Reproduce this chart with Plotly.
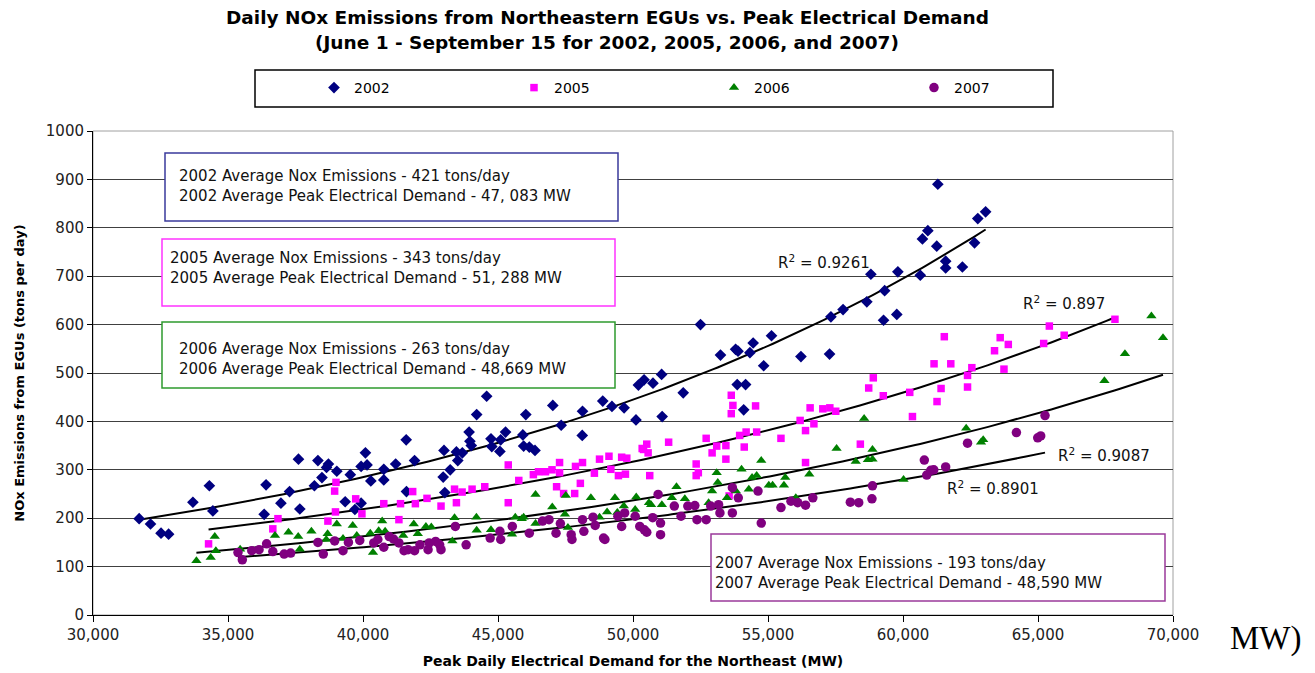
import numpy as np
import plotly.graph_objects as go

# ---------------- data ----------------
years = ["2002", "2005", "2006", "2007"]

demand_2002 = [31710,32130,32520,32800,33700,34310,34440,36340,36410,36960,37280,37610,37660,38200,38330,38480,38650,38720,39030,39340,39530,39700,39930,39930,40090,40150,40290,40770,40770,41210,41600,41610,41910,42970,43000,43030,43230,43460,43510,43680,43930,43960,44010,44210,44580,44740,44770,45070,45100,45280,45920,45950,46030,46160,46370,47030,47340,48120,48130,48880,49220,49670,50110,50200,50410,50740,51060,51080,51860,52500,53240,53800,53890,53860,54170,54100,54330,54450,54840,55130,56220,57280,57330,57780,58660,58810,59280,59320,59770,59810,60640,60720,60920,61250,61290,61580,61580,62200,62650,62770,63060]
nox_2002 = [199,188,169,167,233,267,215,208,269,231,255,322,219,267,319,284,305,312,297,234,290,218,231,307,335,310,277,279,301,312,362,255,319,285,340,253,300,337,319,335,378,359,350,414,452,364,348,338,362,378,372,349,414,347,340,433,392,371,421,442,431,428,403,475,486,479,497,410,459,600,537,549,545,476,476,424,542,562,515,577,534,539,616,631,647,704,609,670,621,709,702,777,794,762,890,731,717,719,769,819,833]

demand_2005 = [34280,36660,36850,38700,38950,39000,38980,39730,39960,40770,41330,41390,41840,41940,42370,42890,43390,43460,43670,44040,44510,45380,45380,45770,46310,46500,46760,47000,47170,47280,47280,47430,47840,47870,48050,48130,48570,48760,49110,49180,49460,49580,49720,49770,50340,50510,50390,50560,50620,51320,52340,52340,52420,52710,52930,53100,53440,53440,53560,53640,53700,53640,53950,54120,54190,54540,54580,55480,56190,56390,56390,56560,56700,57030,57290,57510,58420,58730,58900,59270,60250,60350,61260,61150,61410,61530,61770,62390,62390,62550,63390,63600,63740,63900,65210,65420,65970,67850]
nox_2005 = [147,178,199,194,256,274,213,240,209,230,197,230,255,230,241,225,260,232,254,260,265,310,232,278,290,296,296,300,265,315,294,251,251,307,272,315,293,322,328,301,288,326,291,324,344,353,342,335,288,357,312,288,294,365,335,349,350,322,246,416,433,454,371,347,378,432,378,365,402,381,315,428,395,426,428,421,353,469,490,453,460,410,441,519,468,575,519,471,495,511,546,573,508,559,561,597,578,611]

demand_2006 = [33830,34360,34510,34550,35450,36740,37240,37280,37600,37660,38090,38640,38690,39030,39260,39620,39770,40270,40370,40580,40710,40820,41490,41880,42030,42330,42530,43310,43390,44200,44210,44740,45520,45640,45880,45950,46390,46390,47010,47480,47510,47590,48440,48760,49040,49330,49420,49660,50080,50120,50590,50670,51070,51440,51610,51920,52800,52930,53100,53140,53480,53810,54020,54290,54410,54580,54750,55030,55170,55590,55640,56030,56530,57540,58250,58560,58700,58870,58870,60020,62340,62890,62970,67460,68220,69200,69630]
nox_2006 = [112,119,162,133,136,164,171,126,162,136,173,156,168,188,158,185,164,169,129,174,194,173,164,188,168,183,182,153,201,202,175,176,167,202,199,202,249,189,223,208,247,181,242,202,213,242,212,225,218,244,232,228,228,242,265,240,232,256,294,274,242,256,301,260,284,288,319,268,268,268,284,242,291,344,317,406,321,342,322,280,386,357,362,484,540,618,573]

demand_2007 = [35370,35530,35880,36150,36430,36660,37080,37320,38330,38530,38950,39260,39460,39880,40400,40550,40770,40970,41130,41330,41520,41670,41910,42110,42410,42450,42690,42840,42890,43420,43820,44710,45070,45100,45530,46160,46650,46890,47150,47310,47710,47740,48130,48180,48520,48600,48910,48960,49440,49580,49690,50080,50250,50420,50510,50730,50930,51020,51020,51530,51780,52030,52290,52370,52710,52880,53170,53220,53680,53680,53900,54630,54750,55480,55850,56100,56390,56660,58050,58360,58850,58870,60790,60880,61030,61140,61580,62390,64200,64990,65100,65260]
nox_2007 = [129,114,133,135,147,131,126,128,150,126,153,133,150,154,149,156,140,162,157,149,133,135,133,145,135,149,152,145,135,183,145,159,173,156,183,169,194,197,169,189,166,156,197,173,202,185,159,156,204,183,211,204,183,176,171,201,249,190,166,225,204,225,226,197,197,225,228,211,263,211,242,256,190,222,235,232,227,242,233,232,240,267,320,289,299,300,306,355,377,366,370,412]

r_squared = ["0.9261", "0.897", "0.9087", "0.8901"]
avg_nox = ["421", "343", "263", "193"]
avg_demand = ["47, 083", "51, 288", "48,669", "48,590"]

x_ticks = [30000, 35000, 40000, 45000, 50000, 55000, 60000, 65000, 70000]
y_ticks = [0, 100, 200, 300, 400, 500, 600, 700, 800, 900, 1000]

# ---------------- layout helpers (pixel -> paper) ----------------
W, H = 1315, 673
L, R, T, B = 93, 1173, 131, 615


def px(p):
    return (p - L) / (R - L)


def py(p):
    return (B - p) / (B - T)


series = [
    (demand_2002, nox_2002, "#000080", "diamond", 9),
    (demand_2005, nox_2005, "#FF00FF", "square", 7.5),
    (demand_2006, nox_2006, "#008000", "triangle-up", 9),
    (demand_2007, nox_2007, "#800080", "circle", 9.5),
]

fig = go.Figure()

# trend lines (Excel-style exponential fit on the points)
for (xs, ys, col, sym, sz) in series:
    xa = np.array(xs, dtype=float)
    ya = np.array(ys, dtype=float)
    k, c = np.polyfit(xa, np.log(ya), 1)
    xx = np.linspace(xa.min(), xa.max(), 200)
    fig.add_trace(go.Scatter(x=xx, y=np.exp(c + k * xx), mode="lines",
                             line=dict(color="black", width=2),
                             showlegend=False, hoverinfo="skip"))

for name, (xs, ys, col, sym, sz) in zip(years, series):
    fig.add_trace(go.Scatter(x=xs, y=ys, mode="markers", name=name,
                             marker=dict(color=col, symbol=sym, size=sz,
                                         line=dict(width=0))))

shapes = []
annotations = []

# plot border (grey top/right)
shapes.append(dict(type="rect", xref="paper", yref="paper", x0=0, x1=1, y0=0, y1=1,
                   line=dict(color="#A0A0A0", width=1), layer="below"))

# legend frame
shapes.append(dict(type="rect", xref="paper", yref="paper",
                   x0=px(255), x1=px(1053), y0=py(107), y1=py(70),
                   line=dict(color="black", width=1.5), fillcolor="white", layer="below"))

# info boxes
box_specs = [
    # (x0, x1, y0, y1, color, text_left, text_center_y)
    (165, 618, 153, 221, "#3A3A9C", 177, 185.5),
    (162, 615, 239, 306, "#FF33FF", 168, 268),
    (162, 615, 322, 388, "#2E9A2E", 177, 359),
    (711, 1165, 534, 601, "#9A3A9A", 713, 573),
]
for yr, nox, dem, (x0, x1, y0, y1, col, tl, tc) in zip(years, avg_nox, avg_demand, box_specs):
    shapes.append(dict(type="rect", xref="paper", yref="paper",
                       x0=px(x0), x1=px(x1), y0=py(y1), y1=py(y0),
                       line=dict(color=col, width=1.5), fillcolor="white", layer="above"))
    annotations.append(dict(
        xref="paper", yref="paper", x=px(tl), y=py(tc), xanchor="left", yanchor="middle",
        align="left", showarrow=False,
        text=f"{yr} Average Nox Emissions - {nox} tons/day<br>{yr} Average Peak Electrical Demand - {dem} MW",
        font=dict(family="DejaVu Sans", size=15, color="#111111")))

# R^2 labels
r2_pos = [(776, 262), (1021, 303), (1056, 455), (945, 488)]
for r2, (lx, ly) in zip(r_squared, r2_pos):
    annotations.append(dict(xref="paper", yref="paper", x=px(lx), y=py(ly),
                            xanchor="left", yanchor="middle", showarrow=False,
                            text=f"R<sup>2</sup> = {r2}",
                            font=dict(family="DejaVu Sans", size=15, color="#111111")))

# title
annotations.append(dict(xref="paper", yref="paper", x=px(607), y=py(18), xanchor="center",
                        yanchor="middle", showarrow=False,
                        text="<b>Daily NOx Emissions from Northeastern EGUs vs. Peak Electrical Demand</b>",
                        font=dict(family="DejaVu Sans", size=18.5, color="black")))
annotations.append(dict(xref="paper", yref="paper", x=px(607), y=py(43), xanchor="center",
                        yanchor="middle", showarrow=False,
                        text="<b>(June 1 - September 15 for 2002, 2005, 2006, and 2007)</b>",
                        font=dict(family="DejaVu Sans", size=18.5, color="black")))

# stray "MW)" text at the right
annotations.append(dict(xref="paper", yref="paper", x=px(1228), y=py(638), xanchor="left",
                        yanchor="middle", showarrow=False, text="MW)",
                        font=dict(family="Liberation Serif", size=33, color="black")))

fig.update_layout(
    width=W, height=H,
    margin=dict(l=L, r=W - R, t=T, b=H - B, pad=0, autoexpand=False),
    paper_bgcolor="white", plot_bgcolor="white",
    shapes=shapes, annotations=annotations,
    showlegend=True,
    legend=dict(orientation="h", x=px(314), y=py(88), xanchor="left", yanchor="middle",
                bgcolor="rgba(0,0,0,0)", borderwidth=0,
                font=dict(family="DejaVu Sans", size=14, color="black"),
                entrywidth=155, entrywidthmode="pixels", traceorder="normal"),
    xaxis=dict(range=[30000, 70000], tickvals=x_ticks, tickformat=",d", automargin=False,
               showgrid=False, zeroline=False, showline=True, linecolor="black", linewidth=1,
               ticks="outside", ticklen=6, tickcolor="black",
               tickfont=dict(family="DejaVu Sans", size=15, color="#222222"),
               title=dict(text="<b>Peak Daily Electrical Demand for the Northeast (MW)</b>",
                          font=dict(family="DejaVu Sans", size=14, color="black"), standoff=13)),
    yaxis=dict(range=[0, 1000], tickvals=y_ticks, automargin=False,
               showgrid=True, gridcolor="#404040", gridwidth=1, zeroline=False,
               showline=True, linecolor="black", linewidth=1,
               ticks="outside", ticklen=5, tickcolor="black",
               tickfont=dict(family="DejaVu Sans", size=15, color="#222222"),
               title=dict(text="<b>NOx Emissions from EGUs (tons per day)</b>",
                          font=dict(family="DejaVu Sans", size=13, color="black"), standoff=18)),
)

fig.write_html("out.html")
